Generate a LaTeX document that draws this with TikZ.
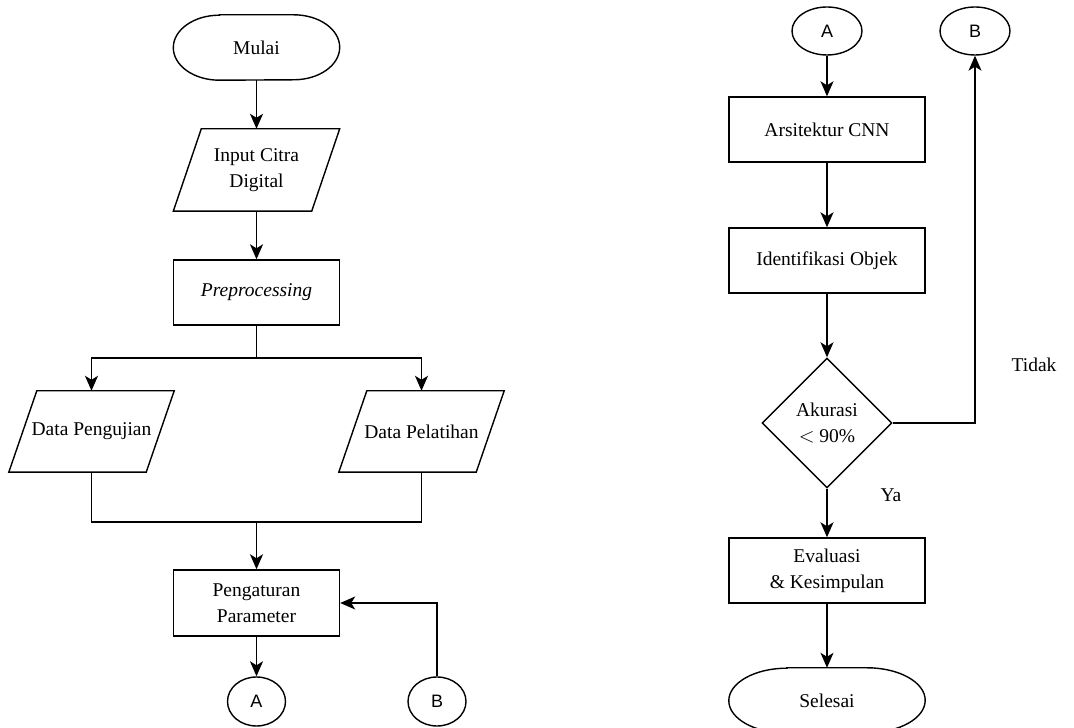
\documentclass[tikz,border=0pt]{standalone}
\usepackage{fontspec}
\setmainfont{Liberation Serif}
\newfontfamily\abfont{Liberation Sans}
\usetikzlibrary{shapes.geometric,arrows.meta}
\newcommand\parashape[1]{\draw[lw] ([xshift=28pt]#1.north west) -- (#1.north east) -- ([xshift=-28pt]#1.south east) -- (#1.south west) -- cycle;}
\newcommand\termshape[2]{\draw[lw] ([xshift=#2]#1.north west) -- ([xshift=-#2]#1.north east) arc[start angle=90,end angle=-90,x radius=#2,y radius=32.5pt] -- ([xshift=#2]#1.south west) arc[start angle=270,end angle=90,x radius=#2,y radius=32.5pt] -- cycle;}
\begin{document}
\begin{tikzpicture}[x=1pt,y=1pt,
  lw/.style={line width=1.4pt},
  txt/.style={font=\fontsize{19.5}{26}\selectfont, align=center, inner sep=2pt},
  box/.style={txt, draw, lw, minimum width=166pt, minimum height=65pt},
  wbox/.style={box, minimum width=196pt},
  ghost/.style={txt, minimum width=166pt, minimum height=82pt},
  term/.style={txt, minimum width=166pt, minimum height=65pt},
  conn/.style={draw, lw, ellipse, inner sep=0pt, font=\abfont\fontsize{18}{20}\selectfont},
  dia/.style={txt, draw, lw, diamond, minimum width=130pt, minimum height=130pt, inner sep=0pt},
  lbl/.style={font=\fontsize{19.5}{22}\selectfont, inner sep=0pt},
  arr/.style={lw, -{Stealth[length=15pt,width=13pt,inset=4pt]}},
  ln/.style={lw}
]
\useasboundingbox (0,0) rectangle (1074,728);
% left column
\node[term] (mulai) at (256.5,680.5) {Mulai};
\termshape{mulai}{46pt}
\node[ghost] (input) at (256.5,558) {Input Citra\\Digital};
\parashape{input}
\node[box] (prep) at (256.5,435.5) {\itshape Preprocessing};
\node[ghost, minimum width=165pt, minimum height=81pt] (peng) at (91.5,296.5) {Data Pengujian};
\parashape{peng}
\node[ghost, minimum width=165pt, minimum height=81pt] (pel) at (421.5,296.5) {Data Pelatihan};
\parashape{pel}
\node[box, minimum height=66pt] (param) at (256.5,125) {Pengaturan\\Parameter};
\node[conn, minimum width=58pt, minimum height=49pt] (a1) at (256.5,26.5) {A};
\node[conn, minimum width=58pt, minimum height=49pt] (b1) at (437,26.5) {B};
\coordinate (split) at (256.5,370);
\coordinate (merge) at (256.5,206);
% right column
\node[conn, minimum width=70pt, minimum height=48pt] (a2) at (827,697) {A};
\node[conn, minimum width=70pt, minimum height=48pt] (b2) at (975,697) {B};
\node[wbox] (arsi) at (827,598.5) {Arsitektur CNN};
\node[wbox] (iden) at (827,467.5) {Identifikasi Objek};
\node[dia] (dec) at (827,305) {Akurasi\\$<$ 90\%};
\node[wbox] (eval) at (827,157.5) {Evaluasi\\\& Kesimpulan};
\node[term, minimum width=196pt] (sel) at (827,27.5) {Selesai};
\termshape{sel}{58pt}
\node[lbl] (tidak) at (1034,363) {Tidak};
\node[lbl] (ya) at (891,233) {Ya};
% connectors left
\draw[arr] (mulai.south) -- (input.north);
\draw[arr] (input.south) -- (prep.north);
\draw[ln] (prep.south) -- (split);
\draw[arr] (split) -| (peng.north);
\draw[arr] (split) -| (pel.north);
\draw[ln] (peng.south) |- (merge);
\draw[ln] (pel.south) |- (merge);
\draw[arr] (merge) -- (param.north);
\draw[arr] (param.south) -- (a1.north);
\draw[arr] (b1.north) |- (param.east);
% connectors right
\draw[arr] (a2.south) -- (arsi.north);
\draw[arr] (arsi.south) -- (iden.north);
\draw[arr] (iden.south) -- (dec.north);
\draw[arr] (dec.east) -| (b2.south);
\draw[arr] (dec.south) -- (eval.north);
\draw[arr] (eval.south) -- (sel.north);
\end{tikzpicture}
\end{document}
